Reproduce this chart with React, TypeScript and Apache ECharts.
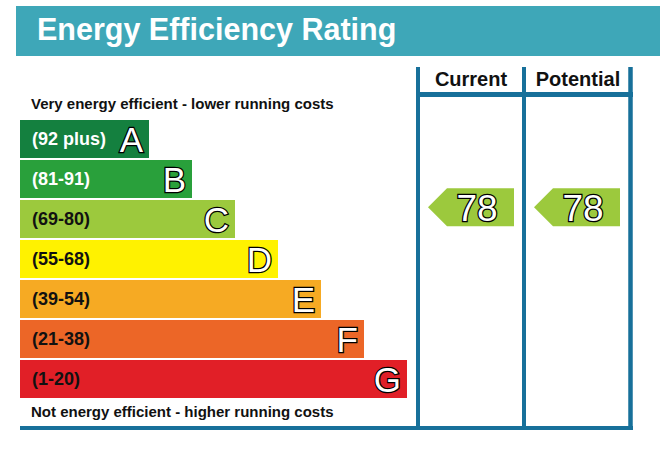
import React, { useEffect, useRef } from 'react';
import * as echarts from 'echarts';

const FONT = '"Liberation Sans", Arial, sans-serif';

// rating bands, best first
const bandLetters = ['A', 'B', 'C', 'D', 'E', 'F', 'G'];
const bandRanges = ['(92 plus)', '(81-91)', '(69-80)', '(55-68)', '(39-54)', '(21-38)', '(1-20)'];
const bandLower = [92, 81, 69, 55, 39, 21, 1];
const bandUpper = [100, 91, 80, 68, 54, 38, 20];
const bandLength = [30, 40, 50, 60, 70, 80, 90];
const bandColors = ['#14803f', '#29a03b', '#9cc93d', '#fff200', '#f6aa23', '#ec6627', '#e11f27'];
const bandTextColors = ['#fff', '#fff', '#111', '#111', '#111', '#111', '#111'];

const columns = ['Current', 'Potential'];
const ratings = [78, 78];

const LINE = '#17709a';

// position of a rating on the band axis (0 = top of A, 7 = bottom of G)
const ratingPos = (v: number) => {
  const i = bandLower.findIndex((lo) => v >= lo);
  const hi = bandUpper[i] + 0.5;
  const lo = bandLower[i] - 0.5;
  return i + (hi - v) / (hi - lo);
};

const App: React.FC = () => {
  const chartRef = useRef<HTMLDivElement>(null);

  useEffect(() => {
    if (!chartRef.current) return;
    const chart = echarts.init(chartRef.current, undefined, { renderer: 'svg' });

    const option: echarts.EChartsOption = {
      animation: false,
      grid: [
        { left: 20, top: 119, width: 430, height: 280 },
        { left: 418, top: 119, width: 212, height: 280 },
      ],
      xAxis: [
        { gridIndex: 0, type: 'value', min: 0, max: 100, show: false },
        { gridIndex: 1, type: 'category', data: columns, show: false },
      ],
      yAxis: [
        { gridIndex: 0, type: 'category', data: bandLetters, inverse: true, show: false },
        { gridIndex: 1, type: 'value', min: 0, max: 7, inverse: true, show: false },
      ],
      series: [
        {
          name: 'bands',
          type: 'bar',
          barWidth: 38,
          data: bandLength.map((v, i) => ({
            value: v,
            itemStyle: { color: bandColors[i] },
            label: {
              show: true,
              position: 'insideLeft',
              distance: 12,
              formatter: bandRanges[i],
              color: bandTextColors[i],
              fontFamily: FONT,
              fontWeight: 'bold',
              fontSize: 18,
            },
          })),
        },
        {
          name: 'letters',
          type: 'bar',
          barWidth: 38,
          barGap: '-100%',
          itemStyle: { color: 'transparent' },
          data: bandLength.map((v, i) => ({ value: v, name: bandLetters[i] })),
          label: {
            show: true,
            position: 'insideRight',
            distance: 6,
            formatter: (p: any) => bandLetters[p.dataIndex],
            color: '#fff',
            textBorderColor: '#000',
            textBorderWidth: 2.5,
            fontFamily: FONT,
            fontSize: 35,
          },
        },
        {
          name: 'ratings',
          type: 'scatter',
          xAxisIndex: 1,
          yAxisIndex: 1,
          symbol: 'path://M0,19L19,0L86,0L86,38L19,38Z',
          symbolSize: [86, 38],
          itemStyle: { color: '#9cc93d', opacity: 1 },
          data: ratings.map((r, i) => [i, ratingPos(r), r]),
          label: {
            show: true,
            position: 'inside',
            offset: [6, 1],
            formatter: (p: any) => String(p.value[2]),
            color: '#fff',
            textBorderColor: '#000',
            textBorderWidth: 2.5,
            fontFamily: FONT,
            fontSize: 37,
          },
        },
      ],
      graphic: [
        { type: 'rect', shape: { x: 16, y: 6, width: 644, height: 50 }, style: { fill: '#3ea7b8' } },
        {
          type: 'text',
          x: 37,
          y: 29,
          style: {
            text: 'Energy Efficiency Rating',
            fill: '#fff',
            font: `bold 30.5px ${FONT}`,
            textAlign: 'left',
            textVerticalAlign: 'middle',
          },
        },
        {
          type: 'text',
          x: 31,
          y: 103,
          style: {
            text: 'Very energy efficient - lower running costs',
            fill: '#111',
            font: `bold 15px ${FONT}`,
            textAlign: 'left',
            textVerticalAlign: 'middle',
          },
        },
        {
          type: 'text',
          x: 31,
          y: 411,
          style: {
            text: 'Not energy efficient - higher running costs',
            fill: '#111',
            font: `bold 15px ${FONT}`,
            textAlign: 'left',
            textVerticalAlign: 'middle',
          },
        },
        {
          type: 'text',
          x: 471,
          y: 79,
          style: {
            text: columns[0],
            fill: '#111',
            font: `bold 20px ${FONT}`,
            textAlign: 'center',
            textVerticalAlign: 'middle',
          },
        },
        {
          type: 'text',
          x: 578,
          y: 79,
          style: {
            text: columns[1],
            fill: '#111',
            font: `bold 20px ${FONT}`,
            textAlign: 'center',
            textVerticalAlign: 'middle',
          },
        },
        { type: 'line', shape: { x1: 418, y1: 67, x2: 418, y2: 430 }, style: { stroke: LINE, lineWidth: 4 } },
        { type: 'line', shape: { x1: 524, y1: 67, x2: 524, y2: 430 }, style: { stroke: LINE, lineWidth: 4 } },
        { type: 'line', shape: { x1: 630.5, y1: 67, x2: 630.5, y2: 430 }, style: { stroke: LINE, lineWidth: 4.5 } },
        { type: 'line', shape: { x1: 416, y1: 94.5, x2: 633, y2: 94.5 }, style: { stroke: LINE, lineWidth: 5 } },
        { type: 'line', shape: { x1: 20, y1: 428, x2: 633, y2: 428 }, style: { stroke: LINE, lineWidth: 4 } },
      ],
    };

    chart.setOption(option);
    return () => chart.dispose();
  }, []);

  return (
    <div
      ref={chartRef}
      style={{ position: 'fixed', left: 0, top: 0, width: 660, height: 463, background: '#fff' }}
    />
  );
};

export default App;
